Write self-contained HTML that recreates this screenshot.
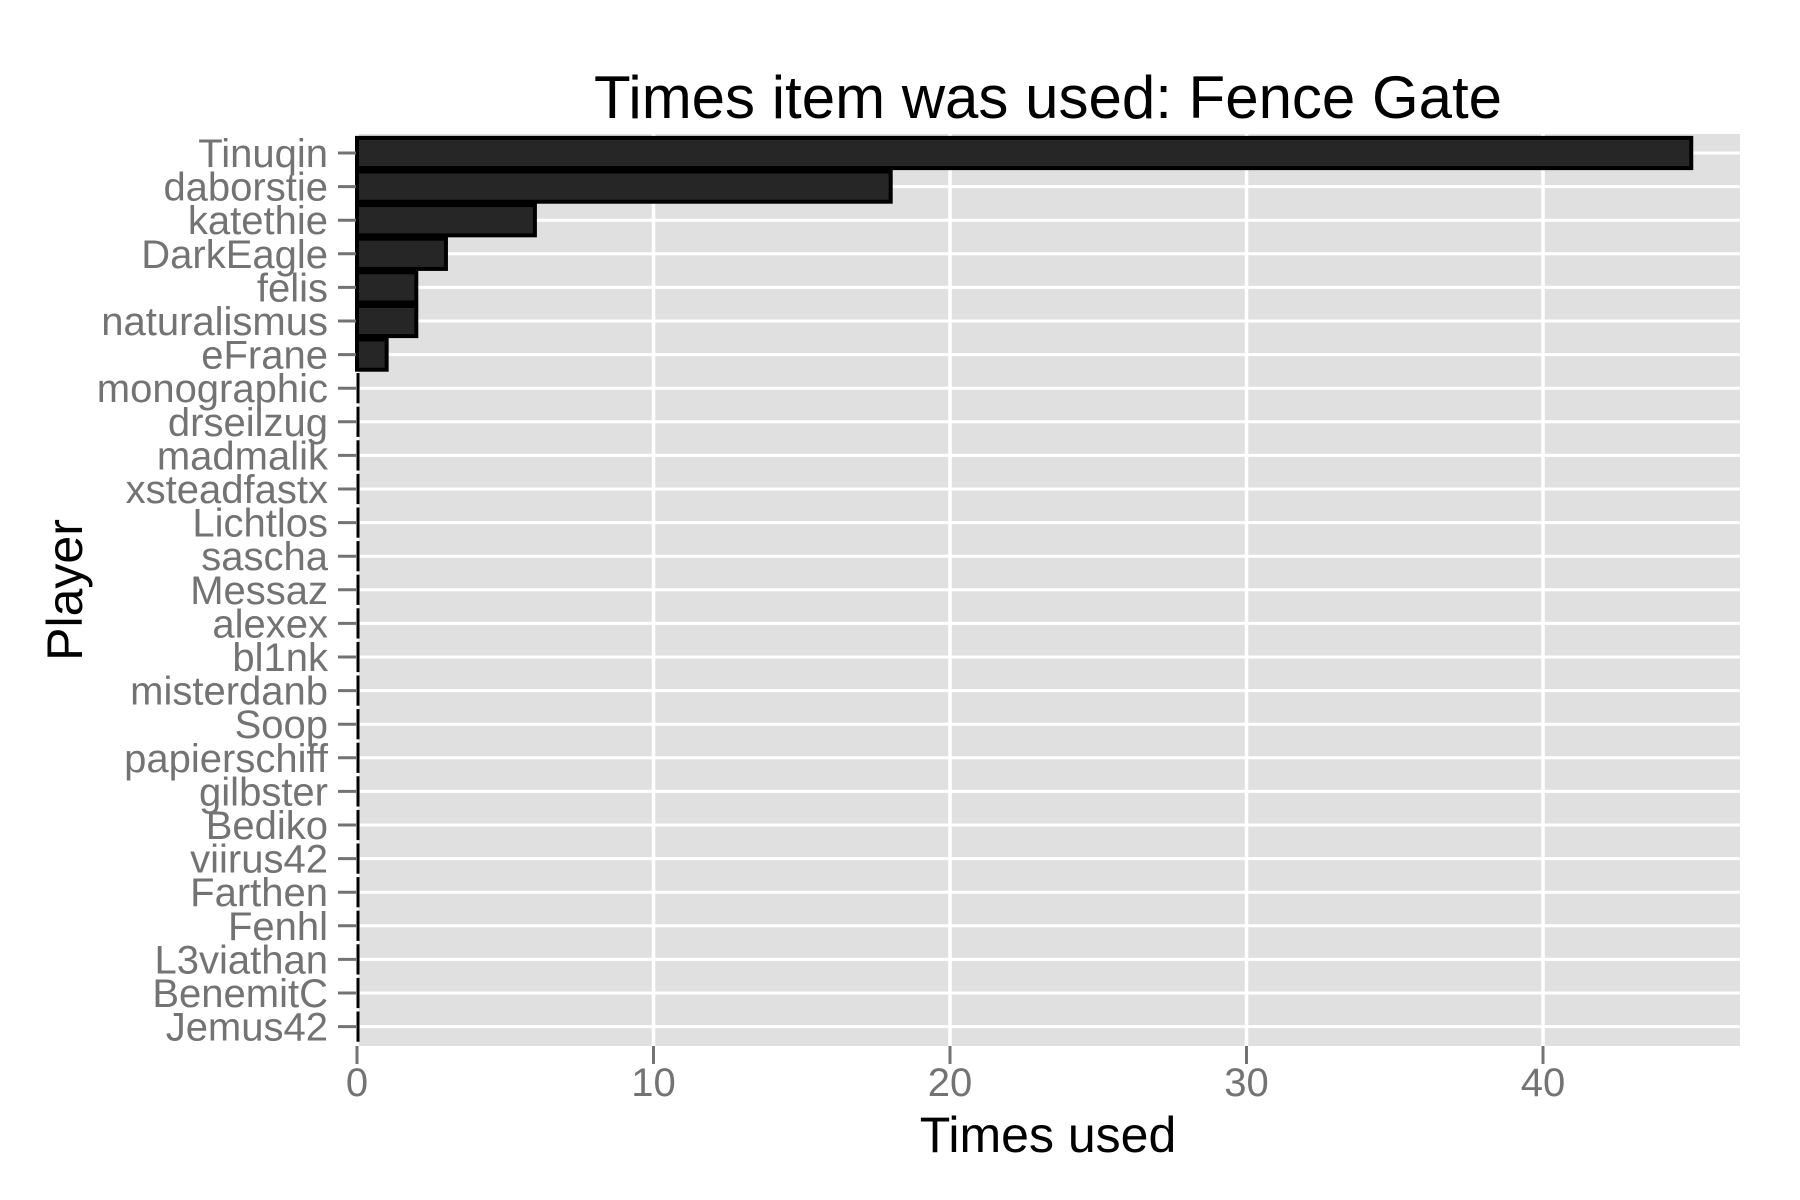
<!DOCTYPE html>
<html><head><meta charset="utf-8"><style>
html,body{margin:0;padding:0;background:#fff;}
svg{display:block;font-family:"Liberation Sans",Arial,sans-serif;}
</style></head><body>
<svg id="chart" width="1800" height="1200" viewBox="0 0 1800 1200">
<rect x="0" y="0" width="1800" height="1200" fill="#fff"/>
<text x="1048" y="118" font-size="60" text-anchor="middle" fill="#000">Times item was used: Fence Gate</text>
<rect id="panel" x="358" y="134" width="1382" height="912" fill="#e0e0e0"/>
<g id="grid"></g>
<g id="bars"></g>
<g id="yaxis"></g>
<g id="xaxis"></g>
<text x="1048" y="1152" font-size="50" text-anchor="middle" fill="#000">Times used</text>
<text x="0" y="0" font-size="50" text-anchor="middle" fill="#000" transform="translate(82,590) rotate(-90)">Player</text>
</svg>
<script>
const categories = ["Tinuqin","daborstie","katethie","DarkEagle","felis","naturalismus","eFrane","monographic","drseilzug","madmalik","xsteadfastx","Lichtlos","sascha","Messaz","alexex","bl1nk","misterdanb","Soop","papierschiff","gilbster","Bediko","viirus42","Farthen","Fenhl","L3viathan","BenemitC","Jemus42"];
const values = [45,18,6,3,2,2,1,0,0,0,0,0,0,0,0,0,0,0,0,0,0,0,0,0,0,0,0];
const xTicks = [0,10,20,30,40];

const NS = "http://www.w3.org/2000/svg";
const panelL = 358, panelR = 1740, panelT = 134, panelB = 1046;
const x0 = 357, unit = 29.65;
function xScale(v){ return x0 + v*unit; }
const n = categories.length;
const step = 33.6;
function yScale(i){ return 153 + i * step; }

function mk(tag, attrs, parent){
  const e = document.createElementNS(NS, tag);
  for (const k in attrs) e.setAttribute(k, attrs[k]);
  parent.appendChild(e);
  return e;
}
const grid = document.getElementById('grid');
const bars = document.getElementById('bars');
const yaxis = document.getElementById('yaxis');
const xaxis = document.getElementById('xaxis');

xTicks.forEach(t => {
  const x = xScale(t);
  const g = mk('line', {x1:x, x2:x, y1:panelT, y2:panelB, stroke:'#fff', 'stroke-width':3.5}, grid);
  
  
  const tk = mk('line', {x1:x, x2:x, y1:panelB, y2:panelB+18, stroke:'#737373', 'stroke-width':3}, xaxis);
  
  
  const lb = mk('text', {x:x, y:1096, 'font-size':40, 'text-anchor':'middle', fill:'#737373'}, xaxis);
  lb.textContent = t;
  
  
});

categories.forEach((c, i) => {
  const y = yScale(i);
  const g = mk('line', {x1:panelL, x2:panelR, y1:y, y2:y, stroke:'#fff', 'stroke-width':3}, grid);
  
  
  const bh = step * 0.9;
  const w = xScale(values[i]) - xScale(0);
  let b;
  if (w > 0) {
    b = mk('rect', {x:xScale(0), y:y - bh/2, width:w, height:bh, fill:'#262626', stroke:'#000', 'stroke-width':4}, bars);
  } else {
    b = mk('line', {x1:xScale(0)+1, x2:xScale(0)+1, y1:y - bh/2, y2:y + bh/2, stroke:'#000', 'stroke-width':3}, bars);
  }
  
  
  const tk = mk('line', {x1:panelL-20, x2:panelL-2, y1:y, y2:y, stroke:'#737373', 'stroke-width':3}, yaxis);
  
  
  const lb = mk('text', {x:328, y:y + 14, 'font-size':40, 'text-anchor':'end', fill:'#737373'}, yaxis);
  lb.textContent = c;
  
  
});
</script>
</body></html>
